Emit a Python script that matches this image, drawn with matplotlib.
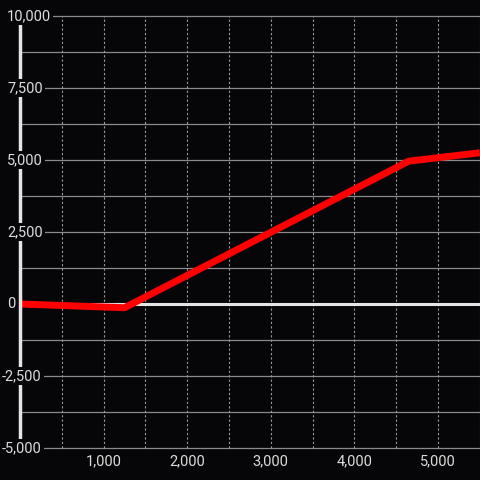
import matplotlib
matplotlib.use("Agg")
import matplotlib.pyplot as plt
import matplotlib.transforms as mtransforms
import numpy as np

# Data
line_x = [0, 1250, 4650, 5500]
line_y = [0, -130, 4960, 5250]

y_ticks = [-5000, -2500, 0, 2500, 5000, 7500, 10000]
y_minor = [-3750, -1250, 1250, 3750, 6250, 8750]
x_ticks = [1000, 2000, 3000, 4000, 5000]
x_grid = [500, 1000, 1500, 2000, 2500, 3000, 3500, 4000, 4500, 5000, 5500]

BG = "#060608"
TXT = "#dcdcdc"
AXIS = "#e4e4e4"

fig = plt.figure(figsize=(4.8, 4.8), dpi=100, facecolor=BG)
ax = fig.add_axes([0, 0, 1, 1])
ax.set_facecolor(BG)
ax.set_xlim(-239, 5502)
ax.set_ylim(-6111, 10555)
ax.axis("off")

# horizontal grid
ax.hlines(y_ticks + y_minor, 0, 5502, colors="#8a8a8a", linewidth=0.9, zorder=1)
# vertical dashed grid
ax.vlines(x_grid, -5000, 10000, colors="#9a9a9a", linewidth=0.8,
          linestyles=(0, (2, 2)), zorder=1)

# zero line and y axis
ax.hlines(0, 0, 5502, colors=AXIS, linewidth=2.2, zorder=2)
ax.plot(line_x, line_y, color="#ff0000", linewidth=5, solid_capstyle="butt",
        solid_joinstyle="round", zorder=3)
ax.vlines(0, -5000, 10000, colors=AXIS, linewidth=2.5, zorder=4)

# tick labels
ylab = mtransforms.blended_transform_factory(ax.transAxes, ax.transData)
for v in y_ticks:
    x0 = 2 / 480 if v < 0 else 7 / 480
    ax.text(x0, v, f"{v:,}".replace("-", "-"), transform=ylab, ha="left",
            va="center", color=TXT, fontsize=10.5, family="Roboto", zorder=5,
            bbox=dict(facecolor=BG, edgecolor="none", pad=1.5))

xlab = mtransforms.blended_transform_factory(ax.transData, ax.transAxes)
for v in x_ticks:
    ax.text(v, 1 - 461 / 480, f"{v:,}", transform=xlab, ha="center",
            va="center", color=TXT, fontsize=10.5, family="Roboto", zorder=5)

fig.savefig("out.png", dpi=100, facecolor=BG)
